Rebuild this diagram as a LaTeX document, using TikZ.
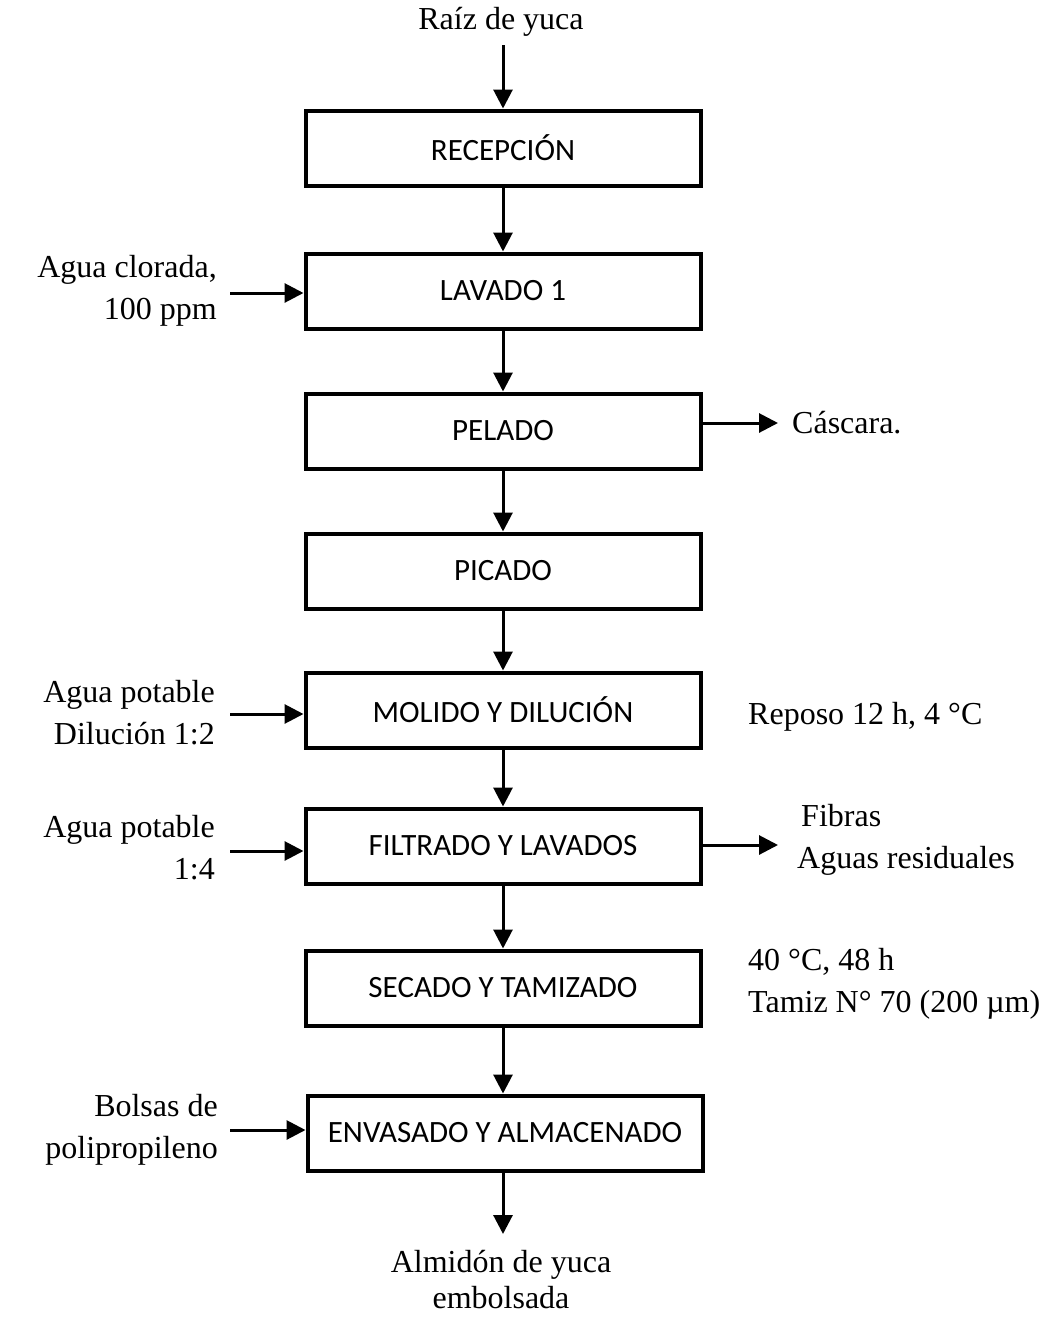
\documentclass[tikz,border=0pt]{standalone}
\usepackage{fontspec}
\setmainfont{Liberation Serif}
\newfontfamily\boxfont{Carlito}
\usetikzlibrary{arrows.meta}
\begin{document}
\begin{tikzpicture}[x=1pt,y=-1pt,
  proc/.style={draw,line width=4pt,minimum width=395pt,minimum height=75pt,inner sep=0pt,
    font=\boxfont\fontsize{31}{36}\selectfont},
  lbl/.style={font=\fontsize{32}{42}\selectfont,inner sep=0pt},
  arr/.style={line width=3pt,-{Triangle[length=19pt,width=19pt]}}]
\useasboundingbox (0,0) rectangle (1045,1320);
\node[proc] (recepcion) at (503,148) {RECEPCIÓN};
\node[proc] (lavado) at (503,291) {LAVADO 1};
\node[proc] (pelado) at (503,431) {PELADO};
\node[proc] (picado) at (503,571) {PICADO};
\node[proc] (molido) at (503,710) {MOLIDO Y DILUCIÓN};
\node[proc] (filtrado) at (503,846) {FILTRADO Y LAVADOS};
\node[proc] (secado) at (503,988) {SECADO Y TAMIZADO};
\node[proc] (envasado) at (505,1133) {ENVASADO Y ALMACENADO};

\node[lbl] (raiz) at (501,22) {Raíz de yuca};
\coordinate (top) at (503,45);
\draw[arr] (top) -- (recepcion.north);
\draw[arr] (recepcion) -- (lavado);
\draw[arr] (lavado) -- (pelado);
\draw[arr] (pelado) -- (picado);
\draw[arr] (picado) -- (molido);
\draw[arr] (molido) -- (filtrado);
\draw[arr] (filtrado) -- (secado);
\draw[arr] (secado) -- (envasado.north -| secado.south);
\coordinate (bot) at (503,1234);
\draw[arr] (envasado.south -| bot) -- (bot);
\node[lbl,align=center,font=\fontsize{32}{36}\selectfont] (almidon) at (501,1280) {Almidón de yuca\\embolsada};

% inputs
\node[lbl,align=right,anchor=east] (agua1) at (217,291) {Agua clorada,\\100 ppm};
\coordinate (in1) at (230,293);
\draw[arr] (in1) -- (in1 -| lavado.west);
\node[lbl,align=right,anchor=east] (agua2) at (215,713) {Agua potable\\Dilución 1:2};
\coordinate (in2) at (230,714);
\draw[arr] (in2) -- (in2 -| molido.west);
\node[lbl,align=right,anchor=east] (agua3) at (215,848) {Agua potable\\1:4};
\coordinate (in3) at (230,851);
\draw[arr] (in3) -- (in3 -| filtrado.west);
\node[lbl,align=right,anchor=east] (bolsas) at (218,1130) {Bolsas de\\polipropileno};
\coordinate (in4) at (230,1130);
\draw[arr] (in4) -- (in4 -| envasado.west);

% outputs
\coordinate (out1) at (778,423);
\draw[arr] (out1 -| pelado.east) -- (out1);
\node[lbl,anchor=west] (cascara) at (792,423) {Cáscara.};
\coordinate (out2) at (778,845);
\draw[arr] (out2 -| filtrado.east) -- (out2);
\node[lbl,align=left,anchor=west] (fibras) at (797,840) {\hspace{4pt}Fibras\\Aguas residuales};

% notes
\node[lbl,anchor=west] (reposo) at (748,717) {Reposo 12 h, 4 °C};
\node[lbl,align=left,anchor=west] (cond) at (748,984) {40 °C, 48 h\\Tamiz N° 70 (200 µm)};
\end{tikzpicture}
\end{document}
